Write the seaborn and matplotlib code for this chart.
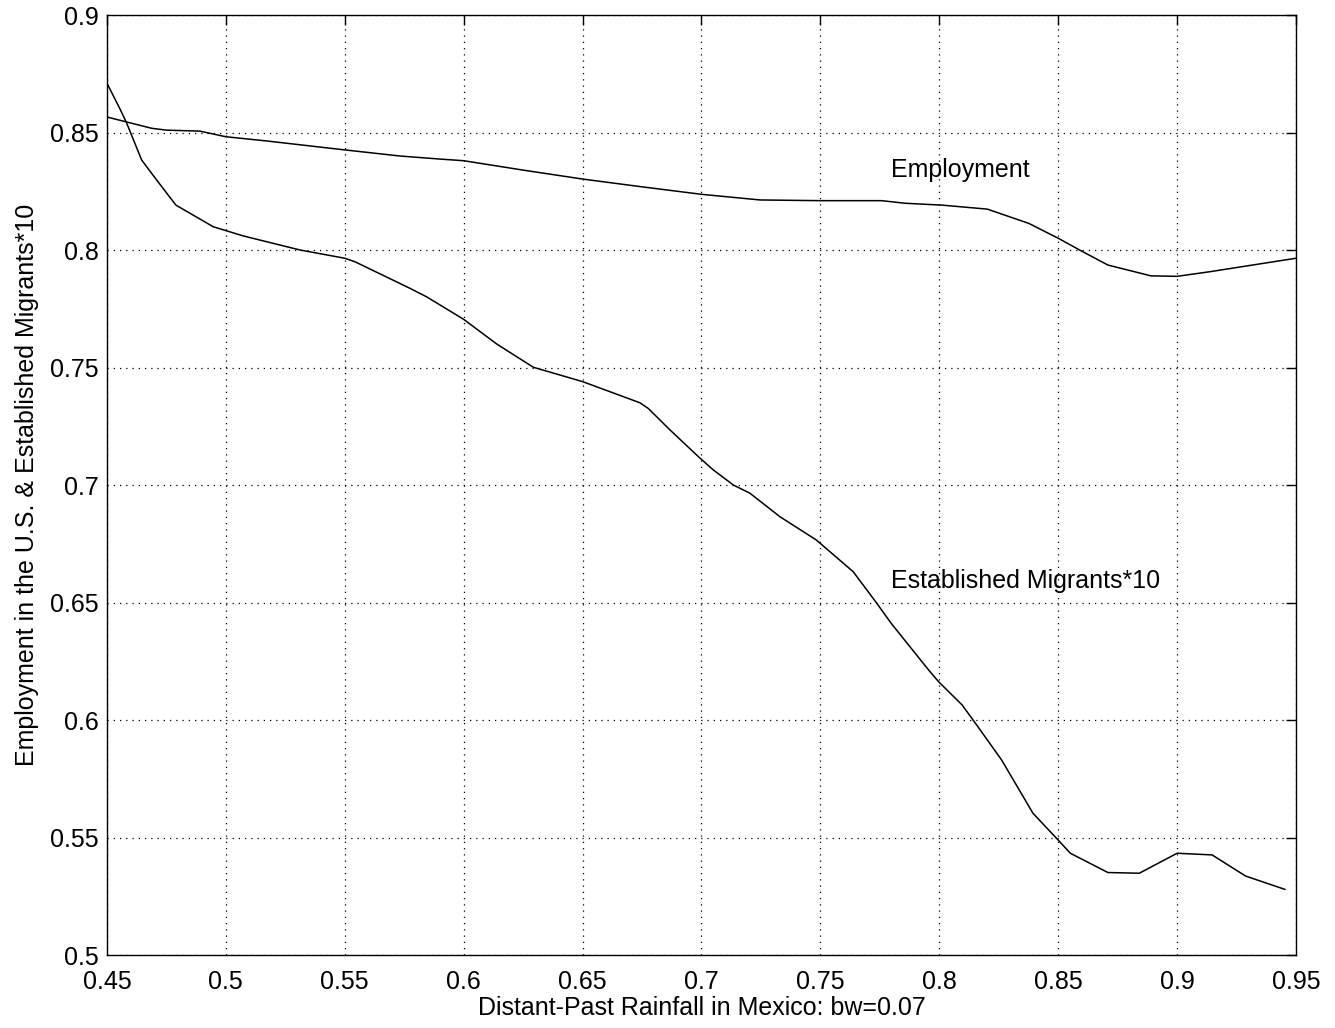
import matplotlib
matplotlib.use("Agg")
import matplotlib.pyplot as plt
import numpy as np
import pandas as pd
import seaborn as sns

# =========================
# DATA
# =========================
emp_x = [0.450, 0.4688, 0.4751, 0.489, 0.500, 0.5172, 0.550, 0.5732, 0.590, 0.600,
         0.625, 0.650, 0.6741, 0.700, 0.7246, 0.750, 0.7757, 0.7856, 0.8011, 0.8202,
         0.8377, 0.850, 0.859, 0.8709, 0.889, 0.900, 0.914, 0.950]
emp_y = [0.8566, 0.8518, 0.8510, 0.8506, 0.8482, 0.8464, 0.8426, 0.8400, 0.8387, 0.8380,
         0.8340, 0.8302, 0.8270, 0.8237, 0.8213, 0.8210, 0.8210, 0.8199, 0.8191, 0.8174,
         0.8113, 0.8050, 0.8000, 0.7936, 0.7890, 0.7888, 0.7908, 0.7965]

mig_x = [0.450, 0.4555, 0.4583, 0.4646, 0.4709, 0.479, 0.4947, 0.5073, 0.5312, 0.550,
         0.5543, 0.5774, 0.5844, 0.600, 0.6139, 0.6293, 0.650, 0.6741, 0.6776, 0.6868,
         0.6994, 0.705, 0.7134, 0.7204, 0.733, 0.7483, 0.7638, 0.7737, 0.7798, 0.7955,
         0.7997, 0.8096, 0.8162, 0.8262, 0.8394, 0.850, 0.8551, 0.8709, 0.8841, 0.900,
         0.9147, 0.9288, 0.9454]
mig_y = [0.8710, 0.8600, 0.8540, 0.8383, 0.8298, 0.8191, 0.8099, 0.8060, 0.8000, 0.7965,
         0.7950, 0.7837, 0.7801, 0.7705, 0.7600, 0.7501, 0.7440, 0.7350, 0.7326, 0.7234,
         0.7114, 0.7064, 0.7000, 0.6965, 0.6865, 0.6766, 0.6631, 0.6497, 0.6411, 0.6213,
         0.6163, 0.6064, 0.5972, 0.5830, 0.5603, 0.5489, 0.5433, 0.5351, 0.5348, 0.5433,
         0.5426, 0.5336, 0.5279]

x_ticks = [0.45, 0.5, 0.55, 0.6, 0.65, 0.7, 0.75, 0.8, 0.85, 0.9, 0.95]
x_tick_labels = ["0.45", "0.5", "0.55", "0.6", "0.65", "0.7", "0.75", "0.8", "0.85", "0.9", "0.95"]
y_ticks = [0.5, 0.55, 0.6, 0.65, 0.7, 0.75, 0.8, 0.85, 0.9]
y_tick_labels = ["0.5", "0.55", "0.6", "0.65", "0.7", "0.75", "0.8", "0.85", "0.9"]

# =========================
# STYLE
# =========================
sns.set_style("white")
plt.rcParams["font.family"] = ["Liberation Sans", "DejaVu Sans"]
plt.rcParams["xtick.direction"] = "in"
plt.rcParams["ytick.direction"] = "in"
for key in ["text.color", "axes.labelcolor", "xtick.color", "ytick.color",
            "xtick.labelcolor", "ytick.labelcolor"]:
    plt.rcParams[key] = "black"

fig = plt.figure(figsize=(13.35, 10.28), dpi=100)
ax = fig.add_axes([0.0801, 0.0710, 0.8907, 0.9144])

sns.lineplot(x=emp_x, y=emp_y, ax=ax, color="black", lw=1.1, sort=False)
sns.lineplot(x=mig_x, y=mig_y, ax=ax, color="black", lw=1.1, sort=False)

ax.set_xlim(0.45, 0.95)
ax.set_ylim(0.5, 0.9)
ax.set_xticks(x_ticks)
ax.set_xticklabels(x_tick_labels)
ax.set_yticks(y_ticks)
ax.set_yticklabels(y_tick_labels)
ax.tick_params(axis="both", labelsize=18, length=7, width=1,
               top=True, right=True)
ax.tick_params(axis="x", pad=11)
ax.tick_params(axis="y", pad=6)
ax.grid(True, linestyle=(0, (1, 4)), color="black", lw=0.9)

for s in ax.spines.values():
    s.set_color("black")
    s.set_linewidth(1.0)

ax.set_xlabel("Distant-Past Rainfall in Mexico: bw=0.07", fontsize=18, labelpad=1)
ax.set_ylabel("Employment in the U.S. & Established Migrants*10", fontsize=18, labelpad=8)

ax.text(0.7797, 0.834, "Employment", fontsize=18, ha="left", va="center")
ax.text(0.7797, 0.6591, "Established Migrants*10", fontsize=18, ha="left", va="center")

fig.savefig("out.png", dpi=100, facecolor="white")
plt.close(fig)
